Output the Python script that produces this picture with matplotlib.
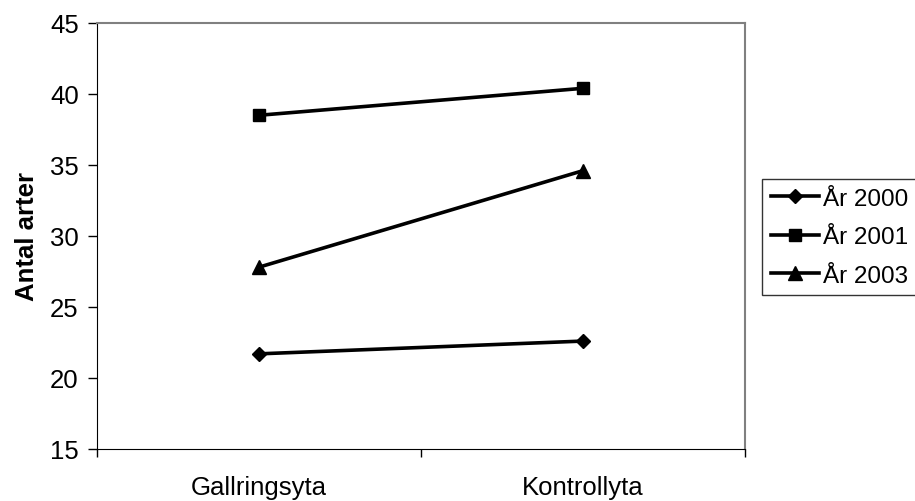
import matplotlib.pyplot as plt
from matplotlib.ticker import FixedLocator, NullFormatter

plt.rcParams['font.family'] = ['Liberation Sans', 'DejaVu Sans']

# Species counts per survey year and plot type
categories = ["Gallringsyta", "Kontrollyta"]
year_2000 = [21.7, 22.6]
year_2001 = [38.5, 40.4]
year_2003 = [27.8, 34.6]
series_labels = ["År 2000", "År 2001", "År 2003"]

fig = plt.figure(figsize=(9.15, 5.02), dpi=100)
ax = fig.add_axes([0.1057, 0.1036, 0.7085, 0.8486])

x = range(len(categories))
ax.plot(x, year_2000, color="black", lw=2.6, marker="D", ms=7.5, label=series_labels[0])
ax.plot(x, year_2001, color="black", lw=2.6, marker="s", ms=8, label=series_labels[1])
ax.plot(x, year_2003, color="black", lw=2.6, marker="^", ms=10, label=series_labels[2])

ax.set_xlim(-0.5, 1.5)
ax.set_ylim(15, 45)
ax.set_yticks(range(15, 46, 5))

# category labels sit between the tick marks
ax.set_xticks([0, 1])
ax.set_xticklabels(categories, fontsize=18.5)
ax.tick_params(axis="x", which="major", length=0, pad=19)
ax.xaxis.set_minor_locator(FixedLocator([-0.5, 0.5, 1.5]))
ax.xaxis.set_minor_formatter(NullFormatter())
ax.tick_params(axis="x", which="minor", length=6, width=1, direction="out")
ax.tick_params(axis="y", length=6.5, width=1, labelsize=18.5, pad=6.5)

ax.set_ylabel("Antal arter", fontsize=18.5, fontweight="bold", labelpad=8)

ax.spines["left"].set_color("black")
ax.spines["bottom"].set_color("black")
for side in ("top", "right"):
    ax.spines[side].set_color("#808080")
    ax.spines[side].set_linewidth(1.5)

leg = fig.legend(loc="upper left", bbox_to_anchor=(762 / 915, 1 - 180 / 502),
                 fontsize=17.5, frameon=True, fancybox=False, edgecolor="black",
                 handlelength=2.0, handletextpad=0.15, borderpad=0.35,
                 labelspacing=0.68, borderaxespad=0)
leg.get_frame().set_linewidth(1)

fig.savefig("out.png", dpi=100)
